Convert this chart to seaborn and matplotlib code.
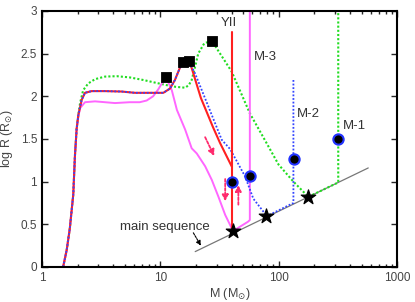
import numpy as np
import pandas as pd
import seaborn as sns
import matplotlib.pyplot as plt

# ---- data (M in Msun, log R in Rsun) ----
green_m = [1.51, 1.62, 1.72, 1.84, 1.90, 1.965, 2.03, 2.10, 2.23, 2.46, 2.81, 3.41, 4.28,
           5.55, 7.2, 9.0, 11.3, 13.5, 16.2, 17.4, 18.4, 19.7, 20.9, 23.5, 27.2,
           40, 57, 79, 99.6, 133, 167, 177, 318, 318]
green_r = [0.0, 0.2, 0.45, 0.85, 1.3, 1.62, 1.78, 1.92, 2.07, 2.15, 2.20, 2.23, 2.235,
           2.22, 2.19, 2.16, 2.13, 2.11, 2.10, 2.13, 2.19, 2.35, 2.50, 2.62, 2.65,
           2.29, 1.80, 1.45, 1.20, 1.00, 0.86, 0.82, 0.99, 3.0]

blue_m = [1.51, 1.62, 1.72, 1.84, 1.90, 1.965, 2.03, 2.17, 2.31, 2.63, 3.41, 4.72, 6.11,
          8.18, 10.6, 12.07, 13.28, 14.6, 15.6, 17.5, 19.6, 27.2,
          33, 38.9, 52, 61, 76, 78, 133, 133]
blue_r = [0.0, 0.2, 0.45, 0.85, 1.3, 1.62, 1.78, 1.96, 2.04, 2.06, 2.06, 2.055, 2.04,
          2.04, 2.04, 2.09, 2.19, 2.33, 2.41, 2.40, 2.27, 1.78,
          1.49, 1.38, 1.06, 0.80, 0.63, 0.59, 0.75, 2.2]

red_m = [1.51, 1.62, 1.72, 1.84, 1.90, 1.965, 2.03, 2.17, 2.31, 2.63, 3.41, 4.72, 6.11,
         8.18, 10.6, 12.07, 13.28, 14.6, 15.6, 17.5, 18.4, 22, 27.8, 32, 40]
red_r = [0.0, 0.2, 0.45, 0.85, 1.3, 1.62, 1.78, 1.96, 2.04, 2.06, 2.06, 2.055, 2.04,
         2.04, 2.04, 2.09, 2.19, 2.33, 2.41, 2.40, 2.33, 1.98, 1.64, 1.45, 1.18]
yii_m = [40, 40]
yii_r = [2.75, 0.40]

mag_m = [1.51, 1.62, 1.72, 1.84, 1.90, 1.965, 2.03, 2.10, 2.31, 2.81, 4.14, 5.5, 6.7, 7.67,
         8.7, 9.6, 10.5, 11.1, 12.5, 13.8, 16.2, 18.4, 20.3, 23.9, 27.2,
         31, 35.3, 38.9, 41, 55, 57, 57]
mag_r = [0.0, 0.2, 0.45, 0.85, 1.3, 1.62, 1.76, 1.86, 1.93, 1.94, 1.92, 1.93, 1.93, 1.95,
         2.0, 2.08, 2.17, 2.23, 2.07, 1.84, 1.61, 1.39, 1.33, 1.18, 1.02,
         0.82, 0.61, 0.49, 0.42, 0.53, 0.55, 3.0]

ms_m = [19.7, 570]
ms_r = [0.18, 1.16]

square_m = [11.1, 15.6, 17.5, 27.2]
square_r = [2.23, 2.40, 2.41, 2.65]
circle_m = [40, 57, 135, 318]
circle_r = [0.99, 1.07, 1.26, 1.50]
star_m = [41, 78, 177]
star_r = [0.42, 0.60, 0.82]

track_names = ["YII", "M-3", "M-2", "M-1"]
name_m = [38, 77, 177, 433]
name_r = [2.86, 2.46, 1.79, 1.65]

# arrows: (start M, start logR, end M, end logR)
arrow_x0 = [23.9, 35.3, 45.6]
arrow_y0 = [1.52, 1.03, 0.73]
arrow_x1 = [28.5, 35.3, 45.6]
arrow_y1 = [1.30, 0.77, 0.96]

sns.set_style("ticks")
plt.rcParams["font.family"] = ["Liberation Sans", "DejaVu Sans"]
plt.rcParams["mathtext.fontset"] = "dejavusans"

fig = plt.figure(figsize=(4.15, 3.02), dpi=100)
ax = fig.add_axes([0.101, 0.116, 0.856, 0.848])

sns.lineplot(x=ms_m, y=ms_r, ax=ax, color="#777777", lw=0.9, sort=False, estimator=None)
sns.lineplot(x=green_m, y=green_r, ax=ax, color="#22dd22", lw=1.5, ls=(0, (1, 1)),
             sort=False, estimator=None)
sns.lineplot(x=mag_m, y=mag_r, ax=ax, color="#ff66ff", lw=1.4, sort=False, estimator=None)
sns.lineplot(x=red_m, y=red_r, ax=ax, color="#ff2020", lw=1.5, sort=False, estimator=None)
sns.lineplot(x=blue_m, y=blue_r, ax=ax, color="#3344ff", lw=1.3, ls=(0, (1, 1)),
             sort=False, estimator=None)
sns.lineplot(x=yii_m, y=yii_r, ax=ax, color="#ff2020", lw=1.5, sort=False, estimator=None)

for x0, y0, x1, y1 in zip(arrow_x0, arrow_y0, arrow_x1, arrow_y1):
    ax.annotate("", xy=(x1, y1), xytext=(x0, y0),
                arrowprops=dict(arrowstyle="-|>", color="#ff2a6d", lw=1.3, ls=(0, (1.5, 1)),
                                mutation_scale=9, shrinkA=0, shrinkB=0))

sns.scatterplot(x=square_m, y=square_r, ax=ax, marker="s", s=55, color="black",
                edgecolor="black", zorder=5)
sns.scatterplot(x=circle_m, y=circle_r, ax=ax, marker="o", s=55, color="black",
                edgecolor="#2233ff", linewidth=1.5, zorder=5)
sns.scatterplot(x=star_m, y=star_r, ax=ax, marker="*", s=120, color="black",
                edgecolor="black", zorder=5)

for name, m, r in zip(track_names, name_m, name_r):
    ax.text(m, r, name, ha="center", va="center", fontsize=9.5, color="#333333")

ax.text(4.56, 0.47, "main sequence", fontsize=9.5, color="#333333", va="center")
ax.annotate("", xy=(22, 0.25), xytext=(19, 0.40),
            arrowprops=dict(arrowstyle="-|>", color="black", lw=0.8, ls=(0, (2, 1)),
                            mutation_scale=7, shrinkA=0, shrinkB=0))

ax.set_xscale("log")
ax.set_xlim(1, 1000)
ax.set_ylim(0, 3)
ax.set_yticks([0, 0.5, 1, 1.5, 2, 2.5, 3])
ax.set_yticklabels(["0", "0.5", "1", "1.5", "2", "2.5", "3"])
ax.set_xticks([1, 10, 100, 1000])
ax.set_xticklabels(["1", "10", "100", "1000"])
ax.tick_params(which="both", direction="in", top=True, right=True, labelsize=8.5,
               labelcolor="#444444", width=1)
ax.tick_params(which="major", length=4)
ax.tick_params(which="minor", length=2)
for sp in ax.spines.values():
    sp.set_linewidth(1.5)
    sp.set_color("black")

ax.set_xlabel(r"M (M$_{\odot}$)", fontsize=9, color="#444444")
ax.set_ylabel(r"log R (R$_{\odot}$)", fontsize=9, color="#444444", labelpad=4)
ax.xaxis.set_label_coords(0.53, -0.075)

fig.savefig("out.png", dpi=100)
